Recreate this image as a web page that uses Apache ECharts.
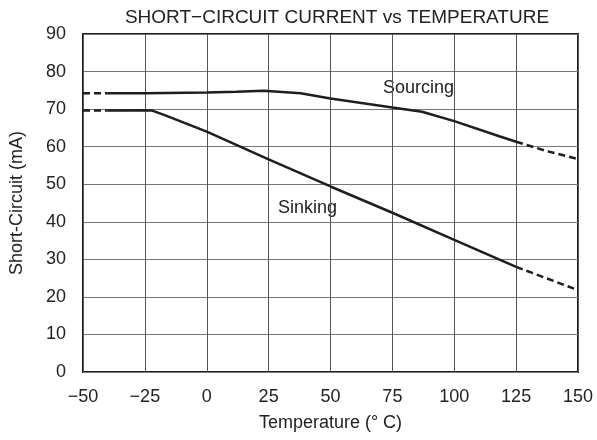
<!DOCTYPE html>
<html>
<head>
<meta charset="utf-8">
<script src="https://cdn.jsdelivr.net/npm/echarts@6/dist/echarts.min.js"></script>
<style>
  html, body { margin: 0; padding: 0; background: #fff; }
  #chart { width: 597px; height: 440px; }
</style>
</head>
<body>
<div id="chart"></div>
<script>
// temperatures (°C) and currents (mA)
var sourcingTemps = [-40, -25, 0, 12, 23, 37.9, 50, 75, 87, 100, 118.5, 125];
var sourcingVals = [74.2, 74.2, 74.4, 74.6, 74.9, 74.2, 72.8, 70.4, 69.3, 66.8, 62.7, 61.3];
var sourcingLowTemps = [-50, -40];
var sourcingLowVals = [74.2, 74.2];
var sourcingHighTemps = [125, 137.5, 150];
var sourcingHighVals = [61.3, 58.8, 56.7];

var sinkingTemps = [-40, -25, -22, -17, 0, 25, 50, 75, 100, 125];
var sinkingVals = [69.6, 69.7, 69.6, 68.4, 64.0, 56.6, 49.4, 42.4, 35.2, 28.0];
var sinkingLowTemps = [-50, -40];
var sinkingLowVals = [69.6, 69.6];
var sinkingHighTemps = [125, 137.5, 150];
var sinkingHighVals = [28.0, 24.9, 21.8];

var xTicks = [-50, -25, 0, 25, 50, 75, 100, 125, 150];
var yTicks = [0, 10, 20, 30, 40, 50, 60, 70, 80, 90];

function pairs(xs, ys) {
    return xs.map(function (x, i) { return [x, ys[i]]; });
}

var chartDom = document.getElementById('chart');
var myChart = echarts.init(chartDom);
var font = 'Liberation Sans, Arial, sans-serif';
var ink = '#1e1e1e';

function line(data, dashed) {
    return {
        type: 'line',
        data: data,
        symbol: 'none',
        smooth: false,
        silent: true,
        lineStyle: { color: ink, width: 2.5, type: dashed ? [7, 4] : 'solid' }
    };
}

var option = {
    animation: false,
    title: {
        text: 'SHORT\u2212CIRCUIT CURRENT vs TEMPERATURE',
        left: 332, top: 3, textAlign: 'center',
        textStyle: { fontFamily: font, fontSize: 19, fontWeight: 'normal', color: '#222' }
    },
    grid: {
        left: 82, right: 19, top: 34, bottom: 68,
        show: true, borderColor: ink, borderWidth: 2, backgroundColor: 'transparent'
    },
    xAxis: {
        type: 'value',
        min: xTicks[0], max: xTicks[xTicks.length - 1], interval: 25,
        name: 'Temperature (\u00b0 C)',
        nameLocation: 'middle', nameGap: 42,
        nameTextStyle: { fontFamily: font, fontSize: 18, color: '#222' },
        axisLine: { show: false },
        axisTick: { show: false },
        axisLabel: {
            margin: 16, fontFamily: font, fontSize: 18, color: '#222',
            formatter: function (v) { return String(v).replace('-', '\u2212'); }
        },
        splitLine: { lineStyle: { color: '#555', width: 1 } }
    },
    yAxis: {
        type: 'value',
        min: yTicks[0], max: yTicks[yTicks.length - 1], interval: 10,
        name: 'Short-Circuit (mA)',
        nameLocation: 'middle', nameGap: 57,
        nameTextStyle: { fontFamily: font, fontSize: 18, color: '#222' },
        axisLine: { show: false },
        axisTick: { show: false },
        axisLabel: { margin: 17, fontFamily: font, fontSize: 18, color: '#222' },
        splitLine: { lineStyle: { color: '#777', width: 1 } }
    },
    graphic: [
        { type: 'text', left: 383, top: 79, style: { text: 'Sourcing', font: '18px ' + font, fill: '#222' } },
        { type: 'text', left: 278, top: 199, style: { text: 'Sinking', font: '18px ' + font, fill: '#222' } }
    ],
    series: [
        line(pairs(sourcingTemps, sourcingVals), false),
        line(pairs(sourcingLowTemps, sourcingLowVals), true),
        line(pairs(sourcingHighTemps, sourcingHighVals), true),
        line(pairs(sinkingTemps, sinkingVals), false),
        line(pairs(sinkingLowTemps, sinkingLowVals), true),
        line(pairs(sinkingHighTemps, sinkingHighVals), true)
    ]
};

option && myChart.setOption(option);
</script>
</body>
</html>
